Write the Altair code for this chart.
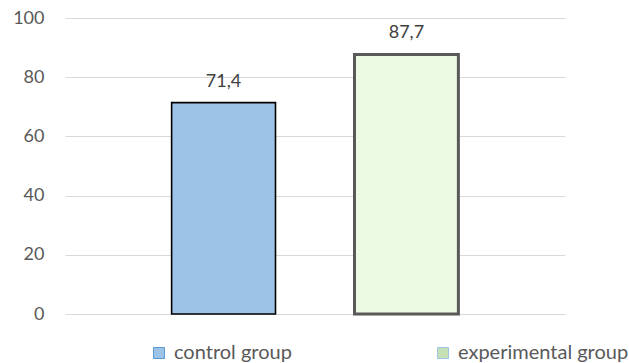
import altair as alt
import pandas as pd

groups = ["control group", "experimental group"]
values = [71.4, 87.7]
labels = [f"{v:.1f}".replace(".", ",") for v in values]

bar_fills = ["#9DC3E6", "#EDFAE3"]
bar_strokes = ["#000000", "#595959"]
bar_stroke_widths = [1.6, 3]
legend_fills = ["#9DC3E6", "#C5E0B4"]
legend_strokes = ["#5B9BD5", "#9DC3E6"]
y_ticks = [0, 20, 40, 60, 80, 100]

df = pd.DataFrame({"group": groups, "value": values, "label": labels})

FONT = "Lato"

x_enc = alt.X("group:N", sort=groups, axis=None,
              scale=alt.Scale(paddingInner=0.432, paddingOuter=0.583))
y_enc = alt.Y("value:Q", title=None,
              scale=alt.Scale(domain=[0, 100], nice=False, zero=True),
              axis=alt.Axis(values=y_ticks, domain=False, ticks=False,
                            labelAlign="right", labelBaseline="middle",
                            labelPadding=21, labelFont=FONT, labelFontSize=18,
                            labelColor="#595959", gridColor="#D9D9D9",
                            gridWidth=1))

is_first = alt.datum.group == groups[0]

bars = alt.Chart(df).mark_bar().encode(
    x=x_enc,
    y=y_enc,
    fill=alt.condition(is_first, alt.value(bar_fills[0]), alt.value(bar_fills[1])),
    stroke=alt.condition(is_first, alt.value(bar_strokes[0]), alt.value(bar_strokes[1])),
    strokeWidth=alt.condition(is_first, alt.value(bar_stroke_widths[0]),
                              alt.value(bar_stroke_widths[1])),
)

legend_kw = dict(orient="none", legendX=84, legendY=325,
                 direction="horizontal", symbolType="square", symbolSize=121,
                 symbolStrokeWidth=1, symbolOpacity=1, labelFont=FONT,
                 labelFontSize=20, labelColor="#595959", labelOffset=5,
                 labelLimit=400, columnPadding=141, padding=0)

legend_layer = alt.Chart(df).transform_filter(
    alt.datum.value < 0
).mark_square(filled=True).encode(
    x=x_enc,
    y=y_enc,
    color=alt.Color("group:N", sort=groups, title="",
                    scale=alt.Scale(domain=groups, range=legend_fills),
                    legend=alt.Legend(**legend_kw)),
    stroke=alt.Stroke("group:N", sort=groups, title="",
                      scale=alt.Scale(domain=groups, range=legend_strokes),
                      legend=alt.Legend(**legend_kw)),
)

text = alt.Chart(df).mark_text(baseline="alphabetic", dy=-16, font=FONT,
                               fontSize=18, color="#404040").encode(
    x=x_enc,
    y=y_enc,
    text="label:N",
)

chart = alt.layer(bars, legend_layer, text).properties(
    width=500,
    height=296,
    autosize=alt.AutoSizeParams(type="none"),
    padding={"left": 65, "top": 18, "right": 64, "bottom": 49},
    background="white",
).configure_view(stroke=None)

chart.save("out.html", embed_options={"renderer": "svg", "actions": False})
